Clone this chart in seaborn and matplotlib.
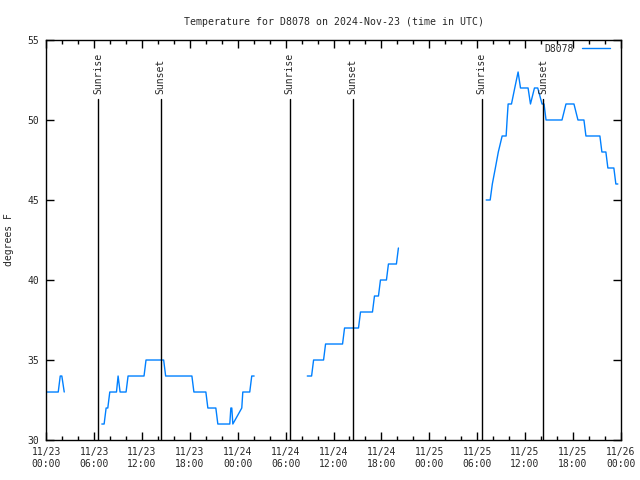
import numpy as np
import pandas as pd
import matplotlib
matplotlib.use("Agg")
import matplotlib.pyplot as plt
import seaborn as sns
from matplotlib.ticker import MultipleLocator

# hours since 2024-11-23 00:00 UTC, temperature in F (one list per data segment)
seg1_h = [0.1, 1.5, 1.75, 1.95, 2.25]
seg1_t = [33, 33, 34, 34, 33]

seg2_h = [6.96, 7.25, 7.5, 7.71, 7.96, 8.8, 9.0, 9.25, 10.0, 10.25, 12.25, 12.5,
          14.71, 14.96, 18.25, 18.5, 20.0, 20.25, 21.25, 21.5, 23.0, 23.13, 23.25,
          23.38, 24.5, 24.63, 25.5, 25.75, 26.05]
seg2_t = [31, 31, 32, 32, 33, 33, 34, 33, 33, 34, 34, 35,
          35, 34, 34, 33, 33, 32, 32, 31, 31, 32, 32,
          31, 32, 33, 33, 34, 34]

seg3_h = [32.71, 33.25, 33.5, 34.75, 35.0, 37.13, 37.38, 39.13, 39.38, 40.88,
          41.13, 41.63, 41.88, 42.63, 42.88, 43.88, 44.13]
seg3_t = [34, 34, 35, 35, 36, 36, 37, 37, 38, 38,
          39, 39, 40, 40, 41, 41, 42]

seg4_h = [55.13, 55.63, 55.9, 56.28, 56.65, 57.13, 57.63, 57.75, 57.88, 58.3,
          58.71, 59.13, 59.43, 60.38, 60.68, 61.18, 61.59, 62.13, 62.38, 62.63,
          64.63, 65.13, 66.13, 66.63, 67.38, 67.63, 69.38, 69.63, 70.13, 70.38,
          71.13, 71.38, 71.63]
seg4_t = [45, 45, 46, 47, 48, 49, 49, 50, 51, 51,
          52, 53, 52, 52, 51, 52, 52, 51, 51, 50,
          50, 51, 51, 50, 50, 49, 49, 48, 48, 47,
          47, 46, 46]

sunrise_h = [6.5, 30.52, 54.55]
sunset_h = [14.34, 38.38, 62.25]

xtick_labels = ["11/23\n00:00", "11/23\n06:00", "11/23\n12:00", "11/23\n18:00",
                "11/24\n00:00", "11/24\n06:00", "11/24\n12:00", "11/24\n18:00",
                "11/25\n00:00", "11/25\n06:00", "11/25\n12:00", "11/25\n18:00",
                "11/26\n00:00"]

segments = [(seg1_h, seg1_t), (seg2_h, seg2_t), (seg3_h, seg3_t), (seg4_h, seg4_t)]
df = pd.concat(
    [pd.DataFrame({"hours": h, "temp": t, "seg": i}) for i, (h, t) in enumerate(segments)],
    ignore_index=True,
)

sns.set_style("ticks")
plt.rcParams["font.family"] = ["DejaVu Sans Mono"]
plt.rcParams["font.size"] = 7

fig = plt.figure(figsize=(6.4, 4.8), dpi=100)
ax = fig.add_axes([0.0723, 0.0833, 0.8977, 0.8334])

line_color = "#0080ff"
sns.lineplot(data=df, x="hours", y="temp", units="seg", estimator=None,
             color=line_color, linewidth=1, ax=ax)

for h in sunrise_h:
    ax.plot([h, h], [30, 51.3], color="black", linewidth=1)
    ax.text(h, 51.65, "Sunrise", rotation=90, ha="center", va="bottom", fontsize=7)
for h in sunset_h:
    ax.plot([h, h], [30, 51.3], color="black", linewidth=1)
    ax.text(h, 51.65, "Sunset", rotation=90, ha="center", va="bottom", fontsize=7)

ax.set_xlim(0, 72)
ax.set_ylim(30, 55)
ax.set_xticks(np.arange(0, 73, 6))
ax.set_xticklabels(xtick_labels)
ax.xaxis.set_minor_locator(MultipleLocator(2))
ax.set_yticks(np.arange(30, 56, 5))
ax.tick_params(axis="both", which="both", direction="in", top=True, right=True,
               labelsize=7, color="black", width=1)
ax.tick_params(axis="both", which="major", length=6, pad=5)
ax.tick_params(axis="both", which="minor", length=3)
for s in ax.spines.values():
    s.set_color("black")
    s.set_linewidth(1)

ax.set_xlabel("")
ax.set_ylabel("degrees F", fontsize=7, labelpad=10)
ax.set_title("Temperature for D8078 on 2024-Nov-23 (time in UTC)", fontsize=7.1, pad=11)

handle = plt.Line2D([], [], color=line_color, linewidth=1)
ax.legend([handle], ["D8078"], loc="upper right", bbox_to_anchor=(0.99, 1.003),
          frameon=False, markerfirst=False, fontsize=7, handlelength=2.9,
          borderaxespad=0.1)

fig.savefig("out.png", dpi=100)
